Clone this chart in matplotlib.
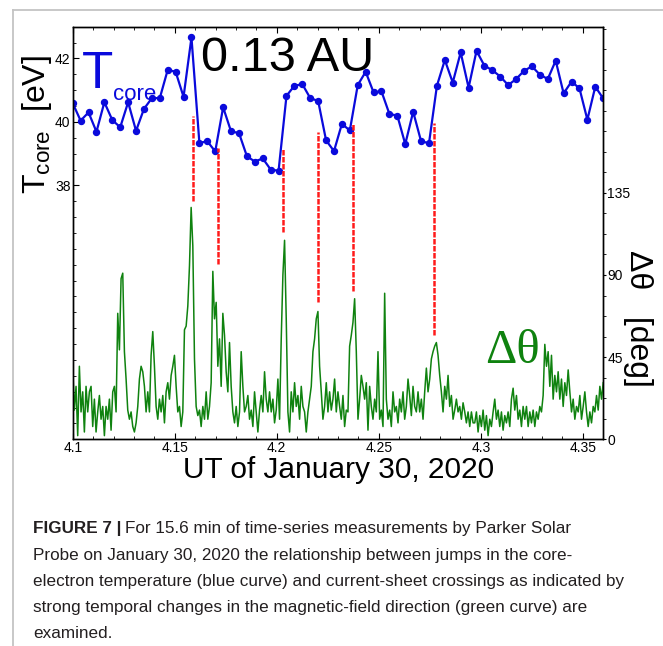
import matplotlib.pyplot as plt
import numpy as np
from matplotlib.lines import Line2D
from matplotlib.ticker import MultipleLocator

plt.rcParams['font.family'] = ['Liberation Sans', 'DejaVu Sans']

# time range of the measurements (hours UT)
t_start, t_end = 4.1, 4.36

# core electron temperature [eV]
tcore = [40.59, 40.04, 40.30, 39.69, 40.62, 40.06, 39.83, 40.62, 39.72, 40.41,
         40.75, 40.75, 41.64, 41.58, 40.79, 42.66, 39.34, 39.39, 39.07, 40.46,
         39.70, 39.65, 38.92, 38.75, 38.85, 38.50, 38.46, 40.82, 41.14, 41.19,
         40.75, 40.66, 39.42, 39.08, 39.94, 39.73, 41.16, 41.58, 40.93, 40.96,
         40.25, 40.20, 39.30, 40.32, 39.39, 39.33, 41.14, 41.95, 41.24, 42.19,
         41.08, 42.24, 41.77, 41.63, 41.43, 41.16, 41.35, 41.61, 41.75, 41.49,
         41.35, 41.93, 40.90, 41.27, 41.06, 40.07, 41.11, 40.74]

# change of magnetic-field direction [deg]
dtheta = [40, 16, 29, 2, 40, 15, 26, 4, 29, 15, 26, 29, 7, 22, 4, 15, 24, 11, 18, 2,
          18, 11, 22, 5, 26, 29, 15, 69, 49, 88, 91, 48, 33, 16, 11, 15, 7, 4, 9, 18,
          33, 40, 37, 29, 15, 26, 15, 46, 59, 40, 18, 11, 22, 15, 24, 9, 26, 31, 22, 35,
          40, 46, 29, 15, 18, 7, 15, 60, 62, 73, 95, 127, 106, 44, 18, 13, 16, 7, 18, 11,
          26, 11, 18, 31, 92, 66, 75, 40, 55, 29, 69, 57, 37, 26, 53, 29, 15, 9, 18, 7,
          15, 48, 29, 15, 18, 24, 11, 16, 7, 26, 15, 4, 16, 24, 15, 37, 22, 15, 26, 15,
          22, 9, 16, 33, 11, 55, 90, 109, 66, 15, 4, 26, 15, 31, 18, 24, 11, 29, 18, 15,
          4, 15, 22, 29, 48, 55, 66, 70, 40, 26, 11, 18, 31, 15, 26, 16, 22, 33, 15, 26,
          18, 11, 24, 7, 16, 15, 51, 57, 64, 77, 48, 11, 22, 35, 29, 22, 31, 5, 29, 18,
          11, 22, 15, 48, 11, 16, 7, 80, 22, 11, 16, 7, 26, 15, 18, 9, 22, 15, 26, 11,
          18, 33, 24, 13, 29, 18, 15, 26, 15, 22, 11, 26, 39, 26, 33, 44, 48, 51, 53, 46,
          35, 26, 15, 29, 22, 35, 18, 24, 11, 16, 22, 15, 18, 11, 20, 15, 9, 15, 7, 15, 9,
          9, 15, 4, 13, 7, 16, 5, 13, 2, 11, 7, 15, 22, 11, 16, 7, 15, 5, 13, 9,
          15, 7, 22, 28, 16, 24, 11, 16, 7, 18, 11, 18, 7, 15, 9, 16, 7, 15, 11, 18,
          15, 24, 52, 40, 48, 29, 46, 22, 35, 26, 37, 22, 33, 18, 31, 24, 38, 26, 15, 22,
          11, 18, 15, 24, 11, 18, 26, 15, 7, 15, 9, 18, 15, 24, 16, 29, 22, 31]

# current-sheet crossings (red dashed markers), ends given in deg
jump_times = [4.1588, 4.1712, 4.2031, 4.2200, 4.2375, 4.2771]
jump_top = [177.1, 159.5, 158.8, 168.3, 172.6, 173.3]
jump_bottom = [130.8, 96.0, 113.4, 75.3, 81.4, 57.1]

x_ticks = [4.1, 4.15, 4.2, 4.25, 4.3, 4.35]
x_ticklabels = ['4.1', '4.15', '4.2', '4.25', '4.3', '4.35']

caption_head = 'FIGURE 7 |'
caption_lines = [
    'For 15.6 min of time-series measurements by Parker Solar',
    'Probe on January 30, 2020 the relationship between jumps in the core-',
    'electron temperature (blue curve) and current-sheet crossings as indicated by',
    'strong temporal changes in the magnetic-field direction (green curve) are',
    'examined.',
]

W, H = 663, 646
fig = plt.figure(figsize=(W / 100, H / 100), dpi=100)

ax = fig.add_axes([72.7 / W, 1 - 439.3 / H, (603.2 - 72.7) / W, (439.3 - 26.7) / H])
ax2 = ax.twinx()

t_core = np.linspace(t_start, t_end, len(tcore))
t_theta = np.linspace(t_start, t_end, len(dtheta))

blue = '#0a0adc'
green = '#0f820f'
ax.plot(t_core, tcore, color=blue, lw=1.6, marker='o', ms=4.3)
ax2.plot(t_theta, dtheta, color=green, lw=1.1)
ax2.vlines(jump_times, jump_bottom, jump_top, colors='#ff1a1a', lw=1.8,
           linestyles=(0, (2.2, 0.6)))

ax.set_xlim(t_start, t_end)
ax.set_xticks(x_ticks)
ax.set_xticklabels(x_ticklabels)
ax.xaxis.set_minor_locator(MultipleLocator(0.01))
ax.set_ylim(30, 43)
ax.set_yticks([38, 40, 42])
ax.yaxis.set_minor_locator(MultipleLocator(0.5))
ax.tick_params(axis='both', which='both', direction='in', top=True, labelsize=10, pad=1.5)
ax.tick_params(which='major', length=4)
ax.tick_params(which='minor', length=2.5)

ax2.set_ylim(0, 226)
ax2.set_yticks([0, 45, 90, 135])
ax2.yaxis.set_minor_locator(MultipleLocator(11.25))
ax2.tick_params(axis='y', which='both', direction='out', labelsize=10, pad=0.5, length=2.5)

for a in (ax, ax2):
    for s in a.spines.values():
        s.set_linewidth(1.0)

fig.text(288 / W, 1 - 71 / H, '0.13 AU', fontsize=35, ha='center', va='baseline')
fig.text(82 / W, 1 - 88 / H, 'T', color=blue, fontsize=37, va='baseline')
fig.text(113 / W, 1 - 100 / H, 'core', color=blue, fontsize=16, va='baseline')
fig.text(485 / W, 1 - 363 / H, 'Δθ', family='Liberation Serif', color=green,
         fontsize=35, va='baseline')

fig.text(37 / W, 1 - 125 / H, 'T$_{\\mathregular{core}}$  [eV]', rotation=90,
         ha='center', va='center', fontsize=23)
fig.text(638 / W, 1 - 318 / H, 'Δθ   [deg]', rotation=270,
         ha='center', va='center', fontsize=23)
fig.text(339 / W, 1 - 470 / H, 'UT of January 30, 2020', ha='center', va='center',
         fontsize=21.5)

# light frame around the figure panel
fig.add_artist(Line2D([12.7 / W, 12.7 / W], [0, 1 - 10 / H], transform=fig.transFigure,
                      color='#c4c4c4', lw=1.3))
fig.add_artist(Line2D([12.7 / W, 1], [1 - 10 / H, 1 - 10 / H], transform=fig.transFigure,
                      color='#c4c4c4', lw=1.3))

# caption
cap_font = ['Liberation Sans', 'DejaVu Sans']
cap_color = '#231f20'
cap_size = 12.3
renderer = fig.canvas.get_renderer()
head = fig.text(33 / W, 1 - 529 / H, caption_head, fontsize=cap_size, weight='bold',
                family=cap_font, color=cap_color, va='center')
x_end = head.get_window_extent(renderer).x1
fig.text((x_end + 4) / W, 1 - 529 / H, caption_lines[0], fontsize=cap_size,
         family=cap_font, color=cap_color, va='center')
for i, line in enumerate(caption_lines[1:]):
    fig.text(33 / W, 1 - (555.5 + 26 * i) / H, line, fontsize=cap_size,
             family=cap_font, color=cap_color, va='center')

fig.savefig('out.png', dpi=100)
